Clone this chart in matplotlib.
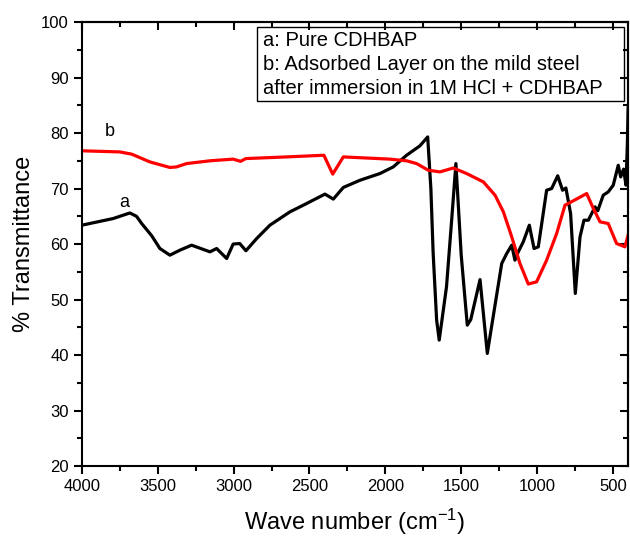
import matplotlib.pyplot as plt
from matplotlib.ticker import MultipleLocator
from matplotlib.patches import Rectangle

plt.rcParams['font.family'] = ['Liberation Sans', 'DejaVu Sans']

# spectrum a: pure CDHBAP
wn_a = [4000, 3794, 3684, 3640, 3606, 3540, 3486, 3420, 3354, 3277, 3156, 3112, 3046, 3003,
        2960, 2919, 2848, 2761, 2629, 2541, 2398, 2343, 2277, 2167, 2036, 1948,
        1860, 1772, 1721, 1700, 1685, 1662, 1645, 1597, 1563, 1535, 1500, 1460, 1437,
        1376, 1328, 1300, 1233, 1200,
        1167, 1146, 1124, 1091, 1051, 1020, 992, 937, 904, 864, 832, 810, 779,
        748, 717, 691, 662, 618, 600, 564, 531, 498, 465, 449, 430, 414, 405, 400]
tr_a = [63.4, 64.6, 65.6, 65.0, 63.7, 61.5, 59.2, 58.0, 58.9, 59.8, 58.6, 59.2, 57.4, 60.0,
        60.1, 58.8, 61.0, 63.4, 65.8, 67.0, 69.0, 68.1, 70.2, 71.5, 72.7, 73.9,
        76.0, 77.7, 79.3, 70.0, 58.4, 46.3, 42.7, 52.3, 64.3, 74.5, 58.0, 45.4, 46.4,
        53.6, 40.3, 45.1, 56.5, 58.3,
        59.8, 57.1, 58.6, 60.4, 63.4, 59.2, 59.5, 69.7, 70.0, 72.3, 69.7, 70.1, 65.5,
        51.1, 61.3, 64.3, 64.3, 66.7, 66.0, 68.8, 69.4, 70.6, 74.2, 72.1, 73.5, 70.6, 78.0, 84.5]

# spectrum b: adsorbed layer on mild steel
wn_b = [4000, 3750, 3672, 3552, 3420, 3376, 3310, 3156, 3003, 2954, 2920, 2651,
        2405, 2347, 2277, 1970, 1860, 1794, 1717, 1640, 1552, 1464, 1354, 1277,
        1222, 1167, 1113, 1058, 1003, 937, 871, 816, 761, 673, 629, 585, 531,
        476, 421, 400]
tr_b = [76.8, 76.6, 76.2, 74.8, 73.8, 73.9, 74.5, 75.0, 75.3, 74.9, 75.4, 75.7,
        76.0, 72.6, 75.7, 75.3, 75.0, 74.5, 73.3, 73.0, 73.7, 72.7, 71.2, 68.8,
        65.8, 61.3, 56.5, 52.8, 53.2, 57.1, 61.9, 67.0, 67.8, 69.1, 66.4, 64.0, 63.7,
        60.1, 59.5, 61.6]

legend_lines = ["a: Pure CDHBAP",
                "b: Adsorbed Layer on the mild steel",
                "after immersion in 1M HCl + CDHBAP"]

fig = plt.figure(figsize=(6.3, 5.37), dpi=100)
ax = fig.add_axes([0.130, 0.132, 0.867, 0.827])

ax.plot(wn_a, tr_a, color='black', lw=2.3)
ax.plot(wn_b, tr_b, color='red', lw=2.3)

ax.text(3723, 67.4, 'a', fontsize=13, ha='center', va='center')
ax.text(3815, 80.2, 'b', fontsize=13, ha='center', va='center')

ax.set_xlim(4000, 400)
ax.set_ylim(20, 100)
ax.xaxis.set_major_locator(MultipleLocator(500))
ax.xaxis.set_minor_locator(MultipleLocator(250))
ax.yaxis.set_major_locator(MultipleLocator(10))
ax.yaxis.set_minor_locator(MultipleLocator(5))
ax.tick_params(which='both', direction='out', top=False, right=False, width=1.5,
               labelsize=12)
ax.tick_params(which='major', length=6)
ax.tick_params(which='minor', length=3.5)
# inward ticks on the top and right spines
ax2 = ax.secondary_xaxis('top')
ax2.xaxis.set_major_locator(MultipleLocator(500))
ax2.xaxis.set_minor_locator(MultipleLocator(250))
ax2.tick_params(which='both', direction='in', labeltop=False, width=1.5)
ax2.tick_params(which='major', length=6)
ax2.tick_params(which='minor', length=3.5)
ax3 = ax.secondary_yaxis('right')
ax3.yaxis.set_major_locator(MultipleLocator(10))
ax3.yaxis.set_minor_locator(MultipleLocator(5))
ax3.tick_params(which='both', direction='in', labelright=False, width=1.5)
ax3.tick_params(which='major', length=6)
ax3.tick_params(which='minor', length=3.5)
for s in list(ax.spines.values()) + [ax2.spines['top'], ax3.spines['right']]:
    s.set_linewidth(1.5)

ax.set_xlabel('Wave number (cm$\\mathregular{^{-1}}$)', fontsize=17, labelpad=9)
ax.set_ylabel('% Transmittance', fontsize=17)

ax.add_patch(Rectangle((0.320, 0.822), 0.673, 0.167, transform=ax.transAxes,
                       fill=False, edgecolor='black', lw=1.0, zorder=5))
for i, line in enumerate(legend_lines):
    ax.text(0.332, 0.958 - i * 0.0535, line, transform=ax.transAxes,
            fontsize=14.5, va='center', ha='left')

fig.savefig('out.png', dpi=100)
